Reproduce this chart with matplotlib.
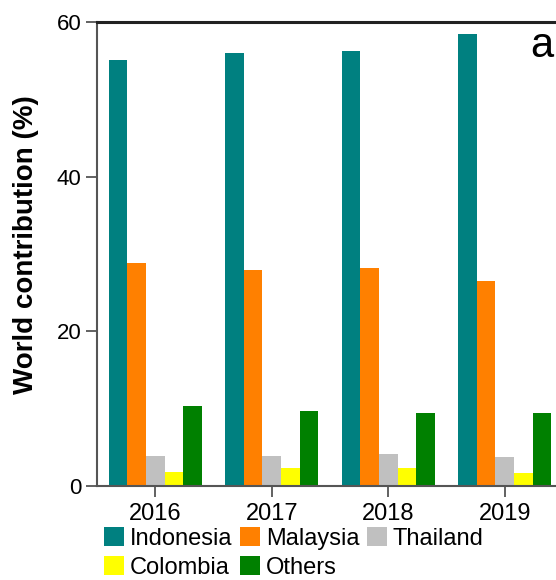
import matplotlib.pyplot as plt
import numpy as np

plt.rcParams['font.family'] = ['Liberation Sans', 'DejaVu Sans']

years = ['2016', '2017', '2018', '2019']
countries = ['Indonesia', 'Malaysia', 'Thailand', 'Colombia', 'Others']
colors = ['#008080', '#FF8000', '#C0C0C0', '#FFFF00', '#008000']

indonesia = [55.1, 56.0, 56.2, 58.5]
malaysia = [28.8, 27.9, 28.2, 26.5]
thailand = [3.9, 3.9, 4.1, 3.8]
colombia = [1.8, 2.3, 2.3, 1.7]
others = [10.3, 9.7, 9.5, 9.4]
series = [indonesia, malaysia, thailand, colombia, others]

fig = plt.figure(figsize=(5.56, 5.80), dpi=100)
ax = fig.add_axes([97 / 556, 94 / 580, 466 / 556, 464 / 580])

x = np.arange(len(years))
w = 0.16
bars = []
for i, (vals, c) in enumerate(zip(series, colors)):
    b = ax.bar(x + (i - 2) * w, vals, w, color=c, linewidth=0)
    bars.append(b)

ax.set_xlim(-0.5, 3.5)
ax.set_ylim(0, 60)
ax.set_yticks([0, 20, 40, 60])
ax.set_xticks(x)
ax.set_xticklabels(years)
ax.tick_params(axis='y', labelsize=16, length=8, width=1.3, color='#555555', pad=3)
ax.tick_params(axis='x', labelsize=17, length=8, width=1.3, color='#555555', pad=4)

for side in ['left', 'bottom']:
    ax.spines[side].set_color('#555555')
    ax.spines[side].set_linewidth(1.5)
ax.spines['top'].set_color('#222222')
ax.spines['top'].set_linewidth(2.2)
ax.spines['right'].set_visible(False)

ax.set_ylabel('World contribution (%)', fontsize=20, fontweight='bold')
ax.yaxis.set_label_coords(-0.125, 0.52)

fig.text(542 / 556, 1 - 46 / 580, 'a', fontsize=30, ha='center', va='center')

# row-major legend: reorder so column-major fill gives Indonesia/Malaysia/Thailand on top
order = [0, 3, 1, 4, 2]
fig.legend([bars[i] for i in order], [countries[i] for i in order],
           ncol=3, loc='upper left', bbox_to_anchor=(104 / 556, 1 - 527 / 580),
           frameon=False, fontsize=17, borderpad=0, borderaxespad=0,
           handlelength=0.85, handleheight=0.85, handletextpad=0.26,
           columnspacing=0.3, labelspacing=0.28)

fig.savefig('out.png', dpi=100)
